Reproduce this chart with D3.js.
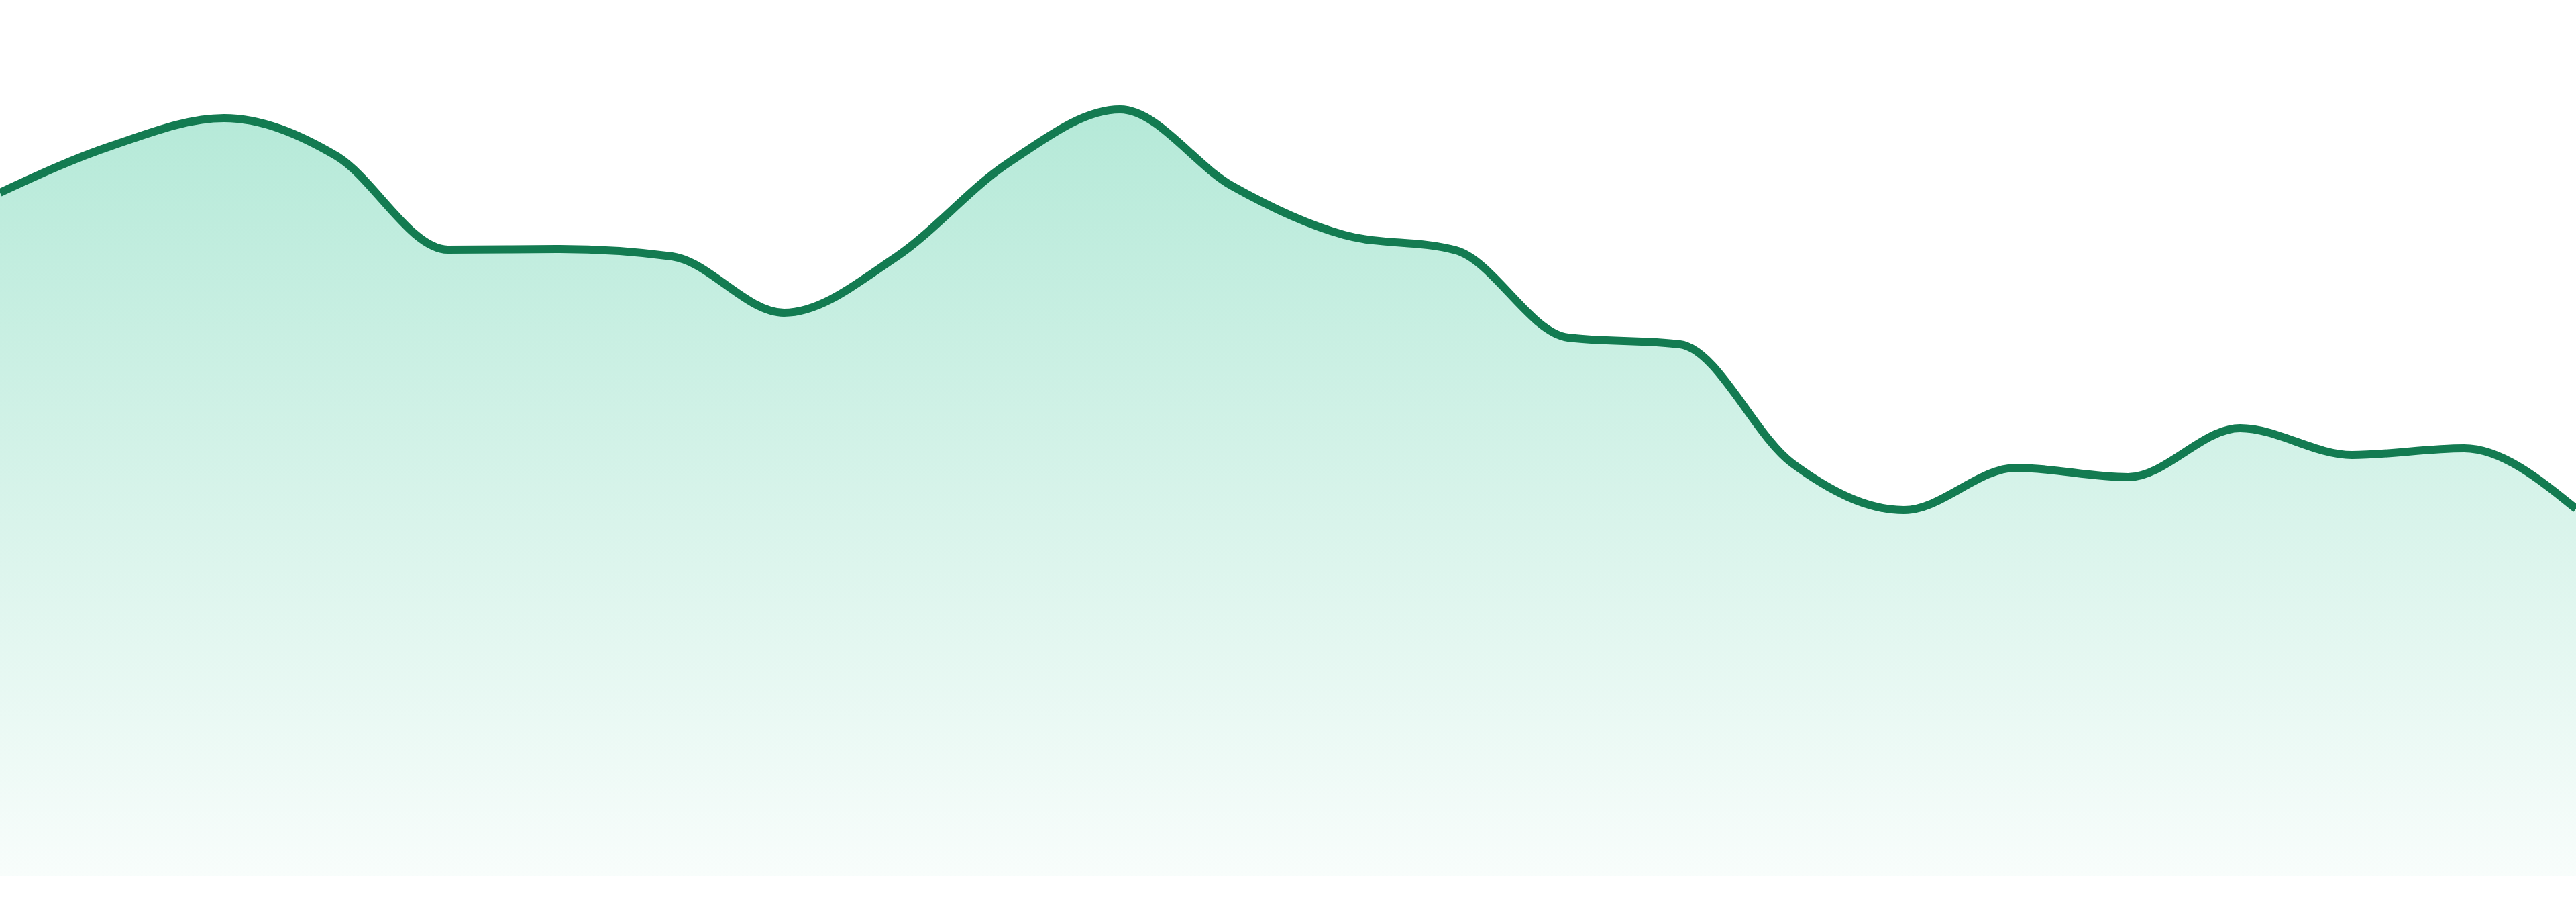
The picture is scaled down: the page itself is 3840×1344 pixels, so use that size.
<!DOCTYPE html>
<html>
<head>
<meta charset="utf-8">
<script src="https://cdn.jsdelivr.net/npm/d3@7"></script>
<style>
  html, body { margin: 0; padding: 0; background: #fff; }
  svg { display: block; }
</style>
</head>
<body>
<div id="wrapper"></div>
<script>
// one reading per step, left to right
const steps = d3.range(1, 25)
const values = [
    101.8, 108.8, 112.9, 107.3, 93.3, 93.4, 92.3, 83.9,
    92.2, 106.2, 114.2, 102.8, 95.5, 93.2, 80.2, 79.2,
    61.5, 54.5, 60.8, 59.4, 66.7, 62.7, 63.7, 54.7
]

const data = steps.map((s, i) => ({ step: s, value: values[i] }))

const xAccessor = d => d.step
const yAccessor = d => d.value

let dimensions = {
    width: 3840,
    height: 1344,
    margin: { top: 105, right: 0, bottom: 39, left: 0 }
}
dimensions.boundedWidth = dimensions.width - dimensions.margin.left - dimensions.margin.right
dimensions.boundedHeight = dimensions.height - dimensions.margin.top - dimensions.margin.bottom

function drawAreaChart () {
    const svg = d3.select('#wrapper').append('svg')
        .attr('width', dimensions.width)
        .attr('height', dimensions.height)

    const bounds = svg.append('g')
        .attr('transform', `translate(${dimensions.margin.left}, ${dimensions.margin.top})`)

    const xScale = d3.scaleLinear()
        .domain(d3.extent(data, xAccessor))
        .range([0, dimensions.boundedWidth])

    const yScale = d3.scaleLinear()
        .domain([0, 120])
        .range([dimensions.boundedHeight, 0])

    // fill fades out towards the baseline
    const grad = svg.append('defs').append('linearGradient')
        .attr('id', 'fade')
        .attr('gradientUnits', 'userSpaceOnUse')
        .attr('x1', 0).attr('x2', 0)
        .attr('y1', yScale(d3.max(data, yAccessor)))
        .attr('y2', yScale(0))
    grad.append('stop').attr('offset', '0%')
        .attr('stop-color', '#10b981').attr('stop-opacity', 0.31)
    grad.append('stop').attr('offset', '100%')
        .attr('stop-color', '#10b981').attr('stop-opacity', 0.03)

    const areaGenerator = d3.area()
        .x(d => xScale(xAccessor(d)))
        .y0(yScale(0))
        .y1(d => yScale(yAccessor(d)))
        .curve(d3.curveMonotoneX)

    bounds.append('path')
        .datum(data)
        .attr('d', areaGenerator)
        .attr('fill', 'url(#fade)')

    const lineGenerator = d3.line()
        .x(d => xScale(xAccessor(d)))
        .y(d => yScale(yAccessor(d)))
        .curve(d3.curveMonotoneX)

    bounds.append('path')
        .datum(data)
        .attr('d', lineGenerator)
        .attr('fill', 'none')
        .attr('stroke', '#137b51')
        .attr('stroke-width', 12)
        .attr('stroke-linejoin', 'round')
}

drawAreaChart()
</script>
</body>
</html>
